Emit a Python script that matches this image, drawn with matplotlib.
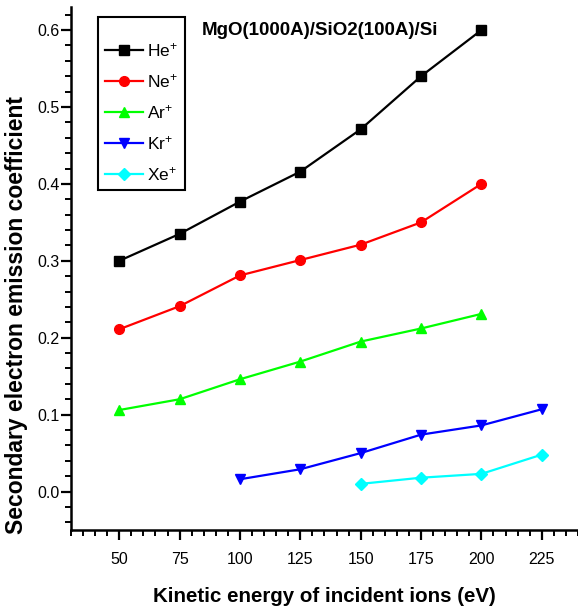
"""Secondary electron emission coefficient vs ion kinetic energy."""
import matplotlib
matplotlib.use('Agg')
import matplotlib.pyplot as plt
from matplotlib.ticker import MultipleLocator

plt.rcParams.update({
    'font.family': ['Liberation Sans', 'DejaVu Sans'],
    'mathtext.fontset': 'custom',
    'mathtext.rm': 'Liberation Sans',
    'mathtext.it': 'Liberation Sans',
    'font.size': 11,
})

energy = [50, 75, 100, 125, 150, 175, 200, 225]
he = [0.300, 0.335, 0.377, 0.416, 0.471, 0.540, 0.600]
ne = [0.211, 0.241, 0.281, 0.301, 0.321, 0.350, 0.400]
ar = [0.106, 0.120, 0.146, 0.169, 0.195, 0.212, 0.231]
kr = [0.016, 0.029, 0.050, 0.074, 0.086, 0.107]
xe = [0.010, 0.018, 0.023, 0.048]

fig = plt.figure(figsize=(5.78, 6.14), dpi=100)
ax = fig.add_axes([0.1228, 0.1368, 0.8772, 0.8518])

kw = dict(lw=1.6, ms=7)
ax.plot(energy[:7], he, color='black', marker='s', label='He$^{+}$', **kw)
ax.plot(energy[:7], ne, color='#ff0000', marker='o', label='Ne$^{+}$', **kw)
ax.plot(energy[:7], ar, color='#00ff00', marker='^', label='Ar$^{+}$', **kw)
ax.plot(energy[2:], kr, color='#0000ff', marker='v', label='Kr$^{+}$', **kw)
ax.plot(energy[4:], xe, color='#00ffff', marker='D', label='Xe$^{+}$', lw=1.6, ms=6.5)

ax.set_xlim(30, 240)
ax.set_ylim(-0.05, 0.63)
ax.xaxis.set_minor_locator(MultipleLocator(5))
ax.yaxis.set_major_locator(MultipleLocator(0.1))
ax.yaxis.set_minor_locator(MultipleLocator(0.02))
ax.set_xticks(energy)
ax.yaxis.set_major_formatter(plt.FuncFormatter(lambda v, p: f'{v:.1f}'))
ax.tick_params(which='major', direction='out', length=7, width=1.6, labelsize=11.5)
ax.tick_params(which='minor', direction='out', length=4, width=1.4)
ax.tick_params(axis='y', pad=1)
ax.tick_params(axis='x', pad=9)

for s in ['top', 'right']:
    ax.spines[s].set_visible(False)
for s in ['left', 'bottom']:
    ax.spines[s].set_linewidth(1.8)

fig.text(324.5 / 578, 1 - 597 / 614, 'Kinetic energy of incident ions (eV)',
         ha='center', va='center', fontsize=14.8, fontweight='bold')
fig.text(17 / 578, 1 - 315 / 614, 'Secondary electron emission coefficient',
         ha='center', va='center', rotation=90, fontsize=16.5, fontweight='bold')

ax.text(0.491, 0.956, 'MgO(1000A)/SiO2(100A)/Si', transform=ax.transAxes,
        ha='center', va='center', fontsize=13.5, fontweight='bold')

leg = ax.legend(loc='upper left', bbox_to_anchor=(0.053, 0.981), fontsize=12.5,
                title=' ', title_fontsize=3,
                fancybox=False, edgecolor='black', framealpha=1,
                handlelength=2.2, handletextpad=0.25, borderpad=0.4,
                labelspacing=0.75, borderaxespad=0)
leg.get_frame().set_linewidth(1.5)

fig.savefig('out.png', dpi=100, facecolor='white')
